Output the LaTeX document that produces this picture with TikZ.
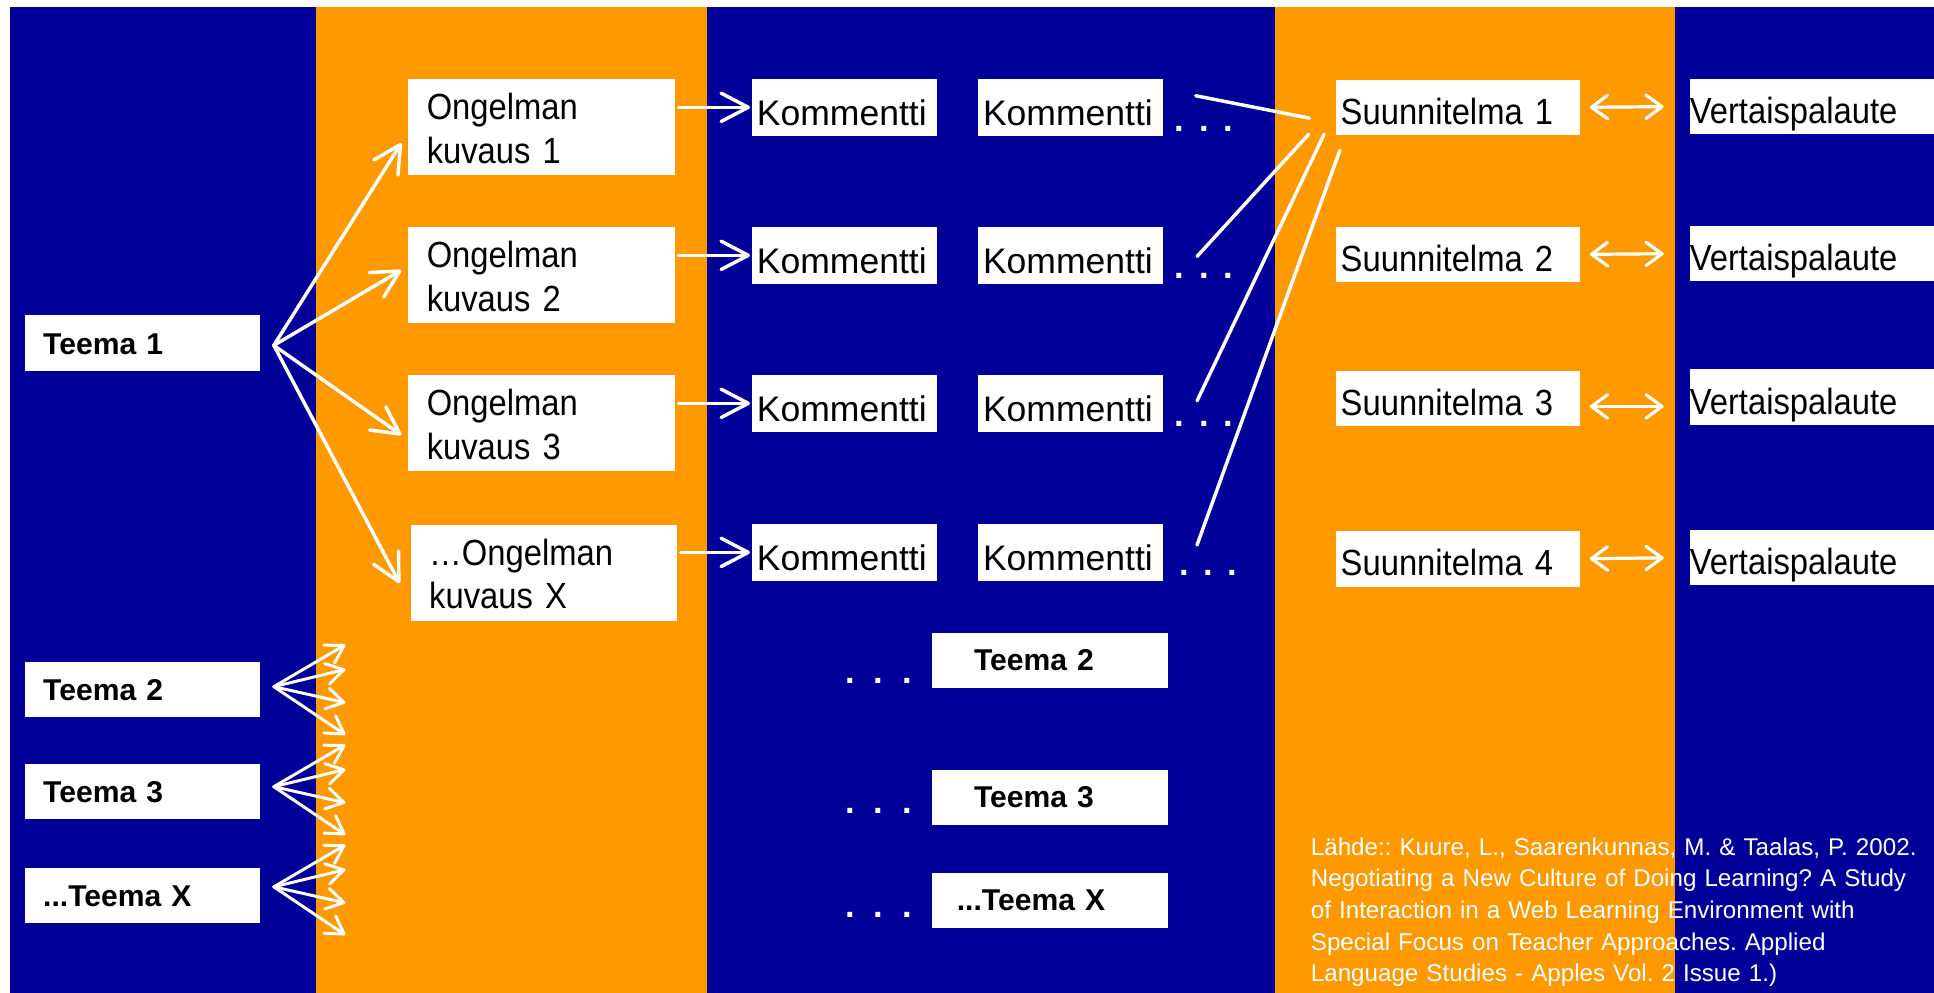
\documentclass[tikz,border=0pt]{standalone}
\usepackage{fontspec}
\setmainfont{Liberation Sans}
\newfontfamily\labelf{Liberation Sans}[FakeStretch=0.9,WordSpace=0.85]
\usetikzlibrary{arrows.meta,calc}
\definecolor{navy}{RGB}{0,0,153}
\definecolor{amber}{RGB}{255,153,0}
\newcommand\spdots[1]{.\hskip#1.\hskip#1.}
\frenchspacing
\begin{document}
\begin{tikzpicture}[x=0.5pt,y=-0.5pt,
  lbl/.style={fill=white, inner ysep=0pt, outer sep=0pt, align=left, text=black},
  teemaL/.style={lbl, inner xsep=7.5pt, text width=80.5pt, text height=15.75pt, text depth=6.75pt,
    font=\fontsize{12.2pt}{14pt}\selectfont\bfseries},
  teemaM/.style={lbl, text height=15.5pt, text depth=7pt,
    font=\fontsize{12.2pt}{14pt}\selectfont\bfseries},
  ong/.style={lbl, inner xsep=7.5pt, text width=93pt, text height=16.4pt, text depth=22.6pt,
    font=\labelf\fontsize{14.75pt}{17.7pt}\selectfont},
  kom/.style={lbl, inner xsep=2pt, text width=71pt, text height=18.7pt, text depth=4.3pt,
    font=\fontsize{14.4pt}{17pt}\selectfont},
  sun/.style={lbl, inner xsep=1.75pt, text width=95.25pt, text height=18.1pt, text depth=4.4pt,
    font=\labelf\fontsize{14.75pt}{17.7pt}\selectfont},
  ver/.style={lbl, inner xsep=0pt, text width=99pt, text height=18.1pt, text depth=4.4pt,
    font=\labelf\fontsize{14.75pt}{17.7pt}\selectfont},
  dotsty/.style={text=white, inner sep=0pt, anchor=base west, font=\fontsize{14pt}{16pt}\selectfont\bfseries},
  arr/.style={draw=white, line width=1.4pt, line cap=round, line join=round,
    -{Straight Barb[round,length=11pt,width=11.5pt]}},
  farr/.style={draw=white, line width=1.2pt, line cap=round, line join=round,
    -{Straight Barb[round,length=7pt,width=8.5pt]}},
  darr/.style={draw=white, line width=1.3pt, line cap=round, line join=round,
    {Straight Barb[round,length=6.5pt,width=9.5pt]}-{Straight Barb[round,length=6.5pt,width=9.5pt]}},
  link/.style={draw=white, line width=1.4pt, line cap=round},
]
\useasboundingbox (0,0) rectangle (1568,805);
\fill[white] (0,0) rectangle (1568,805);
% background stripes
\fill[navy] (8,6) rectangle (1568,805);
\fill[amber] (256,6) rectangle (573,805);
\fill[amber] (1034,6) rectangle (1358,805);

% left Teema boxes
\node[teemaL] (t1) at (115.5,278) {Teema 1};
\node[teemaL] (t2) at (115.5,559) {Teema 2};
\node[teemaL] (t3) at (115.5,641.6) {Teema 3};
\node[teemaL] (tx) at (115.5,726) {...Teema X};

% Ongelman boxes
\node[ong] (o1) at (439,103) {Ongelman\\kuvaus 1};
\node[ong] (o2) at (439,223) {Ongelman\\kuvaus 2};
\node[ong] (o3) at (439,343.25) {Ongelman\\kuvaus 3};
\node[ong] (ox) at (441,464.5) {…Ongelman\\kuvaus X};

% Kommentti boxes
\node[kom] (k11) at (684.65,87) {Kommentti};
\node[kom] (k12) at (684.65,207) {Kommentti};
\node[kom] (k13) at (684.65,327) {Kommentti};
\node[kom] (k14) at (684.65,447.85) {Kommentti};
\node[kom] (k21) at (868,87) {Kommentti};
\node[kom] (k22) at (868,207) {Kommentti};
\node[kom] (k23) at (868,327) {Kommentti};
\node[kom] (k24) at (868,447.85) {Kommentti};

% dots after second Kommentti column
\node[dotsty] (kd1) at (952,106.9) {\spdots{6pt}};
\node[dotsty] (kd2) at (952,226.1) {\spdots{6pt}};
\node[dotsty] (kd3) at (952,346.1) {\spdots{6pt}};
\node[dotsty] (kd4) at (955.6,466.5) {\spdots{6pt}};

% Suunnitelma boxes
\node[sun] (s1) at (1182.25,87) {Suunnitelma 1};
\node[sun] (s2) at (1182.25,206.25) {Suunnitelma 2};
\node[sun] (s3) at (1182.25,323) {Suunnitelma 3};
\node[sun] (s4) at (1182.25,453) {Suunnitelma 4};

% Vertaispalaute boxes
\node[ver] (v1) at (1469,86.3) {Vertaispalaute};
\node[ver] (v2) at (1469,205.5) {Vertaispalaute};
\node[ver] (v3) at (1469,322) {Vertaispalaute};
\node[ver] (v4) at (1469,452) {Vertaispalaute};

% middle Teema boxes with dots
\node[teemaM, inner xsep=16.85pt, text width=61.8pt] (m2) at (851.5,535.3) {Teema 2};
\node[teemaM, inner xsep=16.85pt, text width=61.8pt] (m3) at (851.5,646.5) {Teema 3};
\node[teemaM, inner xsep=9.85pt, text width=75.8pt] (mx) at (851.5,730) {...Teema X};
\node[dotsty] (md2) at (685.1,554.2) {\spdots{7.6pt}};
\node[dotsty] (md3) at (685.1,659.5) {\spdots{7.6pt}};
\node[dotsty] (mdx) at (685.1,743.9) {\spdots{7.6pt}};

% source text
\node[anchor=base west, inner sep=0pt, text=white, text width=270pt, align=left,
  font=\fontsize{9.8pt}{12.85pt}\selectfont] (src) at (1062.4,693.2)
  {Lähde:: Kuure, L., Saarenkunnas, M. \& Taalas, P. 2002.\\
   Negotiating a New Culture of Doing Learning? A Study\\
   of Interaction in a Web Learning Environment with\\
   Special Focus on Teacher Approaches. Applied\\
   Language Studies - Apples Vol. 2 Issue 1.)};

% Teema 1 fan
\coordinate (t1o) at ($(t1.east)+(11,2)$);
\draw[arr] (t1o) -- ($(o1.west)+(-5.6,13)$);
\draw[arr] (t1o) -- ($(o2.west)+(-5.6,-4)$);
\draw[arr] (t1o) -- ($(o3.west)+(-5.6,9.4)$);
\draw[arr] (t1o) -- ($(ox.west)+(-9,8.3)$);

% Teema 2/3/X fans
\coordinate (t2o) at ($(t2.east)+(11,-2.3)$);
\coordinate (t3o) at ($(t3.east)+(11,-3.8)$);
\coordinate (txo) at ($(tx.east)+(11,-7)$);
\foreach \t in {t2,t3,tx}{
  \foreach \dy [count=\i] in {-34,-14,13,39}{
    \coordinate (\t e\i) at ($(\t o)+(58,\dy)$);
    \draw[farr] (\t o) -- (\t e\i);
  }
}

% Ongelman -> Kommentti
\draw[arr, shorten <=1.5pt, shorten >=0.8pt] (o1.east |- k11.west) -- (k11.west);
\draw[arr, shorten <=1.5pt, shorten >=0.8pt] (o2.east |- k12.west) -- (k12.west);
\draw[arr, shorten <=1.5pt, shorten >=0.8pt] (o3.east |- k13.west) -- (k13.west);
\draw[arr, shorten <=1.5pt, shorten >=0.8pt] (ox.east |- k14.west) -- (k14.west);

% links from comment rows to Suunnitelma 1
\draw[link] ($(k21.east)+(26.4,-9.4)$) -- ($(s1.west)+(-21.8,8.8)$);
\draw[link] ($(k22.east)+(27.5,0.9)$) -- ($(s1.west)+(-22.5,21.9)$);
\draw[link] ($(k23.east)+(27.5,-2)$) -- ($(s1.west)+(-10,21.9)$);
\draw[link] ($(k24.east)+(27.5,-6)$) -- ($(s1.west)+(2.8,34.9)$);

% Suunnitelma <-> Vertaispalaute
\draw[darr, shorten <=4pt, shorten >=10.6pt] (s1.east) -- (v1.west);
\draw[darr, shorten <=4pt, shorten >=10.6pt] (s2.east) -- (v2.west);
\draw[darr, shorten <=4pt, shorten >=10.6pt] ([yshift=-3.25pt]s3.east) -- ([yshift=-3.25pt]s3.east -| v3.west);
\draw[darr, shorten <=4pt, shorten >=10.6pt] (s4.east) -- (v4.west);
\end{tikzpicture}
\end{document}
